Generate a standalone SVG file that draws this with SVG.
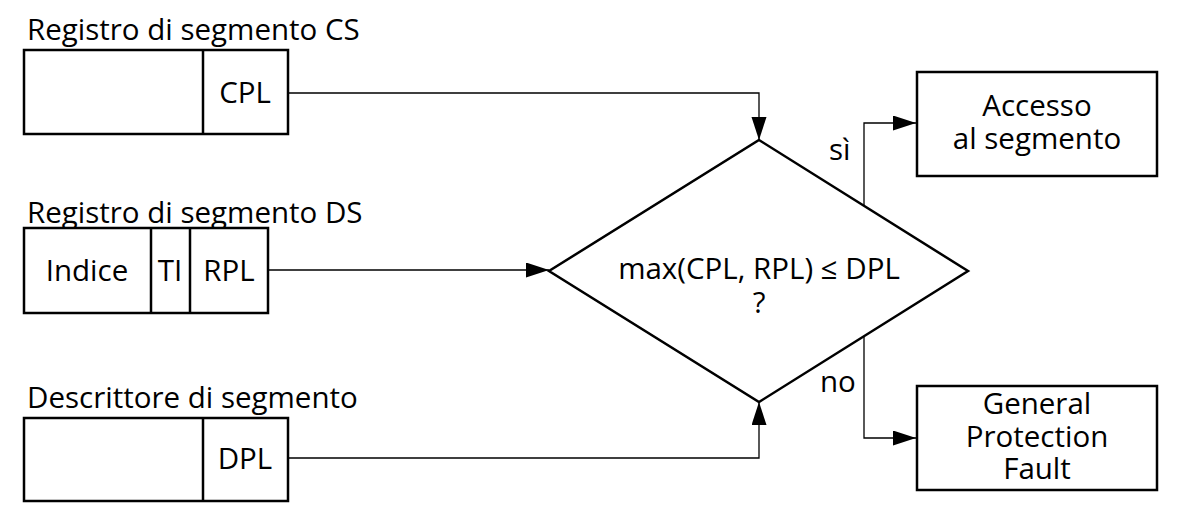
<svg xmlns="http://www.w3.org/2000/svg" width="1188" height="520" viewBox="0 0 1188 520">
<style>
.box{fill:#fff;stroke:#000;stroke-width:2.5}
.div{stroke:#000;stroke-width:2.5}
.con{fill:none;stroke:#000;stroke-width:1.3}
text{font-family:"Open Sans","Noto Sans",sans-serif;fill:#000;font-size:29.5px}
.c{text-anchor:middle}
</style>
<defs>
<marker id="ah" markerUnits="userSpaceOnUse" markerWidth="24" markerHeight="16" refX="23" refY="7.5" orient="auto">
<path d="M0,0 L23,7.5 L0,15 Z" fill="#000"/>
</marker>
</defs>
<rect width="1188" height="520" fill="#fff"/>
<g id="cs">
<text x="27" y="40">Registro di segmento CS</text>
<rect class="box" x="24" y="50" width="264" height="84"/>
<line class="div" x1="203" y1="50" x2="203" y2="134"/>
<text class="c" x="245" y="103">CPL</text>
</g>
<g id="ds">
<text x="27" y="223">Registro di segmento DS</text>
<rect class="box" x="24" y="228" width="244" height="85"/>
<line class="div" x1="151" y1="228" x2="151" y2="313"/>
<line class="div" x1="190" y1="228" x2="190" y2="313"/>
<text class="c" x="87" y="281">Indice</text>
<text class="c" x="170" y="281">TI</text>
<text class="c" x="229" y="281">RPL</text>
</g>
<g id="desc">
<text x="27" y="408">Descrittore di segmento</text>
<rect class="box" x="24" y="418" width="264" height="83"/>
<line class="div" x1="203" y1="418" x2="203" y2="501"/>
<text class="c" x="245" y="469">DPL</text>
</g>
<g id="decision">
<polygon class="box" points="759,140 968,271 759,402 549,271"/>
<text class="c" x="759" y="279">max(CPL, RPL) ≤ DPL</text>
<text class="c" x="759" y="313">?</text>
</g>
<g id="access">
<rect class="box" x="917" y="72" width="240" height="104"/>
<text class="c" x="1037" y="116">Accesso</text>
<text class="c" x="1037" y="149">al segmento</text>
</g>
<g id="gpf">
<rect class="box" x="917" y="386" width="240" height="104"/>
<text class="c" x="1037" y="414">General</text>
<text class="c" x="1037" y="447">Protection</text>
<text class="c" x="1037" y="479">Fault</text>
</g>
<g id="connectors">
<polyline class="con" points="288,93 759,93 759,140" marker-end="url(#ah)"/>
<polyline class="con" points="268,270 549,270" marker-end="url(#ah)"/>
<polyline class="con" points="288,458 759,458 759,402" marker-end="url(#ah)"/>
<polyline class="con" points="864,205 864,123 916,123" marker-end="url(#ah)"/>
<polyline class="con" points="864,336 864,438 916,438" marker-end="url(#ah)"/>
<text x="829" y="160">sì</text>
<text x="820" y="392">no</text>
</g>
</svg>
